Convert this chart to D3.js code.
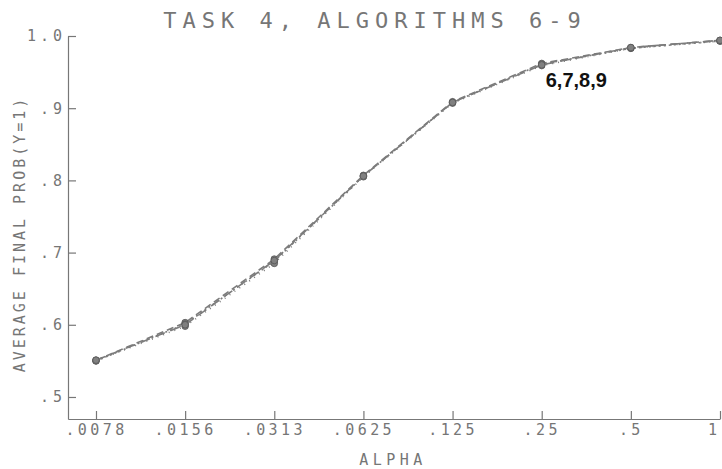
<!DOCTYPE html>
<html>
<head>
<meta charset="utf-8">
<script src="https://cdn.jsdelivr.net/npm/d3@7"></script>
<style>
  body { margin: 0; background: #fff; }
  svg text { font-family: "DejaVu Sans Mono", monospace; fill: #767676; }
</style>
</head>
<body>
<div id="chart"></div>
<script>
const alphas = [0.0078125, 0.015625, 0.03125, 0.0625, 0.125, 0.25, 0.5, 1];
const alphaLabels = [".0078", ".0156", ".0313", ".0625", ".125", ".25", ".5", "1."];
const yTicks = [0.5, 0.6, 0.7, 0.8, 0.9, 1.0];
const yTickLabels = [".5", ".6", ".7", ".8", ".9", "1.0"];

// algorithms 6..9 overlap almost exactly
const alg6 = [0.551, 0.603, 0.691, 0.807, 0.909, 0.962, 0.984, 0.994];
const alg7 = [0.550, 0.601, 0.688, 0.806, 0.908, 0.961, 0.983, 0.993];
const alg8 = [0.550, 0.598, 0.685, 0.805, 0.907, 0.959, 0.983, 0.993];
const alg9 = [0.551, 0.600, 0.689, 0.806, 0.908, 0.960, 0.984, 0.994];
const series = [alg6, alg7, alg8, alg9];
const dashes = ["7,4", "2,3", "1,5", "10,6"];

const margin = {top: 36, right: 2, bottom: 50, left: 68},
      width = 722 - margin.left - margin.right,
      height = 469 - margin.top - margin.bottom;

const svg = d3.select("#chart")
  .append("svg")
  .attr("width", width + margin.left + margin.right)
  .attr("height", height + margin.top + margin.bottom)
  .append("g")
  .attr("transform", `translate(${margin.left},${margin.top})`);

const x = d3.scaleLog().base(2).domain([Math.pow(2, -7.314), 1]).range([0, width]);
const y = d3.scaleLinear().domain([0.4695, 1.0]).range([height, 0]);

const xAxis = svg.append("g").attr("transform", `translate(0,${height})`)
  .call(d3.axisBottom(x).tickValues(alphas).tickFormat((d, i) => alphaLabels[i])
        .tickSizeInner(-8).tickSizeOuter(0).tickPadding(5));

const yAxis = svg.append("g")
  .call(d3.axisLeft(y).tickValues(yTicks).tickFormat((d, i) => yTickLabels[i])
        .tickSizeInner(-8).tickSizeOuter(0).tickPadding(2));

[xAxis, yAxis].forEach(a => {
  a.selectAll("path, line").attr("stroke", "#777").attr("stroke-width", 1.2);
  a.selectAll("text").style("font-size", "15px");
});
xAxis.selectAll("text").style("letter-spacing", "3.4px");
yAxis.selectAll("text").style("letter-spacing", "4px");

const line = d3.line().x((d, i) => x(alphas[i])).y(d => y(d));

series.forEach((s, k) => {
  svg.append("path")
    .datum(s)
    .attr("fill", "none")
    .attr("stroke", "#7c7c7c")
    .attr("stroke-width", 1.6)
    .attr("stroke-dasharray", dashes[k])
    .attr("d", line);

  svg.selectAll(null)
    .data(s)
    .enter().append("circle")
    .attr("cx", (d, i) => x(alphas[i]))
    .attr("cy", d => y(d))
    .attr("r", 3.3)
    .attr("fill", "#808080")
    .attr("stroke", "#555")
    .attr("stroke-width", 0.8);
});

svg.append("text")
  .attr("x", x(0.25) + 4).attr("y", y(alg7[5]) + 23)
  .style("font-family", "'Liberation Sans', Arial, sans-serif")
  .style("font-weight", "bold").style("font-size", "20px")
  .style("fill", "#111")
  .text("6,7,8,9");

svg.append("text").attr("x", 375 - margin.left).attr("y", 28 - margin.top)
  .attr("text-anchor", "middle").style("font-size", "22px").style("letter-spacing", "6px")
  .text("TASK 4, ALGORITHMS 6-9");

svg.append("text").attr("x", 393 - margin.left).attr("y", height + 46)
  .attr("text-anchor", "middle").style("font-size", "15px").style("letter-spacing", "4.5px")
  .text("ALPHA");

svg.append("text")
  .attr("transform", `translate(${25 - margin.left},${234 - margin.top}) rotate(-90)`)
  .attr("text-anchor", "middle").style("font-size", "15px").style("letter-spacing", "3px")
  .text("AVERAGE FINAL PROB(Y=1)");
</script>
</body>
</html>
